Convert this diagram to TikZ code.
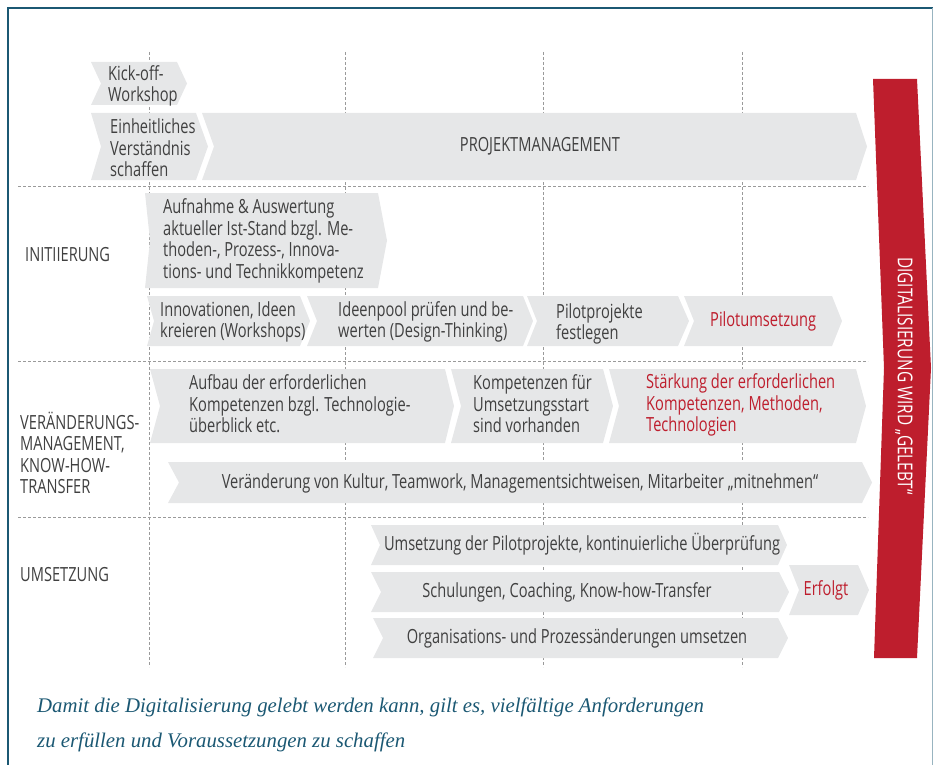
\documentclass[tikz,border=0pt]{standalone}
\usepackage{fontspec}
\setmainfont{Open Sans}[FakeStretch=0.75]
\newfontfamily\capfont{Liberation Serif}
\usetikzlibrary{calc}

\definecolor{boxgrey}{HTML}{E6E7E8}
\definecolor{txtgrey}{HTML}{404040}
\definecolor{accent}{HTML}{BE1E2D}
\definecolor{frameteal}{HTML}{1B5873}
\definecolor{guidegrey}{HTML}{9A9A9A}

\tikzset{
  lbl/.style={font=\fontsize{19.5}{21.5}\selectfont, text=txtgrey, inner sep=0pt, align=left},
  redlbl/.style={lbl, text=accent},
  guide/.style={guidegrey, line width=0.9pt, dash pattern=on 3pt off 2pt},
  capline/.style={font=\capfont\itshape\fontsize{20.8}{22}\selectfont, text=frameteal, inner sep=0pt, anchor=west},
}

% chevron-shaped bar: name, left x, body end x, top y, bottom y, notch depth, tip depth
\newcommand{\chevbox}[7]{%
  \pgfmathsetmacro\chevmid{(#4+#5)/2}%
  \fill[boxgrey] (#2,#4) -- (#3,#4) -- (#3+#7,\chevmid) -- (#3,#5) -- (#2,#5) -- (#2+#6,\chevmid) -- cycle;
  \coordinate (#1) at (#2,\chevmid);
}

\begin{document}
\begin{tikzpicture}[x=1pt,y=-1pt]
\useasboundingbox (0,0) rectangle (934,765);

% frame
\draw[frameteal, line width=2.5pt] (8,765) -- (8,8) -- (933,8);
\draw[frameteal!45, line width=1pt] (932.5,8) -- (932.5,765);

% dashed phase grid
\foreach \gx in {149,345,543,742} \draw[guide] (\gx,52) -- (\gx,667);
\foreach \gy in {186,361,517} \draw[guide] (18,\gy) -- (868,\gy);

% top rows
\chevbox{kick}{91}{177}{62}{105}{10}{10}
\chevbox{einh}{91}{196}{113}{180}{10}{12}
\chevbox{projekt}{202}{856}{113}{180}{12}{11}

% Initiierung
\chevbox{aufnahme}{145}{378}{193}{288}{5}{9}
\chevbox{innov}{147}{300}{296}{346}{7}{10}
\chevbox{ideen}{307}{523}{296}{346}{10}{10}
\chevbox{pilotp}{527}{678}{296}{346}{10}{11}
\chevbox{pilotu}{684}{832}{296}{346}{10}{10}

% Veraenderungsmanagement
\chevbox{aufbau}{150}{445}{369}{443}{10}{9}
\chevbox{kompet}{451}{603}{369}{443}{10}{10}
\chevbox{staerk}{609}{856}{369}{443}{10}{10}
\chevbox{veraend}{168}{862}{462}{503}{11}{10}

% Umsetzung
\chevbox{umsetz}{371}{778}{525}{565}{9}{9}
\chevbox{schul}{371}{779}{572}{612}{10}{10}
\chevbox{organ}{373}{778}{618}{658}{10}{10}
\chevbox{erfolgt}{789}{858}{565}{615}{10}{11}

% red bar
\fill[accent] (873,79) -- (917,79) -- (931,368) -- (917,658) -- (874,658) -- (884,368) -- cycle;
\node[lbl, text=white, rotate=-90, font=\fontsize{20.5}{22}\selectfont] (gelebt) at (904,376) {DIGITALISIERUNG WIRD „GELEBT“};

% row labels
\node[lbl, anchor=west] (lInit) at (25,255) {INITIIERUNG};
\node[lbl, anchor=west] (lVer) at (20,453) {VERÄNDERUNGS-\\MANAGEMENT,\\KNOW-HOW-\\TRANSFER};
\node[lbl, anchor=west] (lUms) at (20,575) {UMSETZUNG};

% bar texts
\node[lbl, anchor=west] (tKick) at (108,86) {Kick-off-\\Workshop};
\node[lbl, anchor=west] (tEinh) at (110,148) {Einheitliches\\Verständnis\\schaffen};
\node[lbl] (tProj) at (540,146) {PROJEKTMANAGEMENT};
\node[lbl, anchor=west] (tAufn) at (163,241) {Aufnahme \& Auswertung\\aktueller Ist-Stand bzgl. Me-\\thoden-, Prozess-, Innova-\\tions- und Technikkompetenz};
\node[lbl, anchor=west] (tInnov) at (160,322) {Innovationen, Ideen\\kreieren (Workshops)};
\node[lbl, anchor=west] (tIdeen) at (338,322) {Ideenpool prüfen und be-\\werten (Design-Thinking)};
\node[lbl, anchor=west] (tPilotp) at (556,324) {Pilotprojekte\\festlegen};
\node[redlbl, anchor=west] (tPilotu) at (710,321) {Pilotumsetzung};
\node[lbl, anchor=west] (tAufbau) at (189,404) {Aufbau der erforderlichen\\Kompetenzen bzgl. Technologie-\\überblick etc.};
\node[lbl, anchor=west] (tKomp) at (473,404) {Kompetenzen für\\Umsetzungsstart\\sind vorhanden};
\node[redlbl, anchor=west] (tStaerk) at (646,405) {Stärkung der erforderlichen\\Kompetenzen, Methoden,\\Technologien};
\node[lbl] (tVer) at (520,483) {Veränderung von Kultur, Teamwork, Managementsichtweisen, Mitarbeiter „mitnehmen“};
\node[lbl] (tUms) at (582,544) {Umsetzung der Pilotprojekte, kontinuierliche Überprüfung};
\node[lbl] (tSchul) at (567,592) {Schulungen, Coaching, Know-how-Transfer};
\node[lbl] (tOrg) at (577,638) {Organisations- und Prozessänderungen umsetzen};
\node[redlbl] (tErf) at (826,590) {Erfolgt};

% caption
\node[capline] (cap1) at (37,707) {Damit die Digitalisierung gelebt werden kann, gilt es, vielfältige Anforderungen};
\node[capline] (cap2) at (37,742) {zu erfüllen und Voraussetzungen zu schaffen};
\end{tikzpicture}
\end{document}
